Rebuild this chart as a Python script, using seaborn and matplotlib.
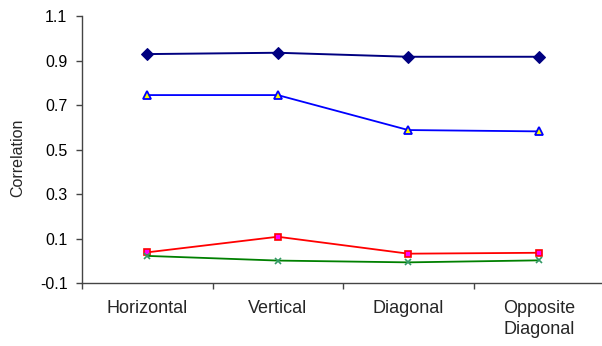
import matplotlib
matplotlib.use("Agg")
import matplotlib.pyplot as plt
import seaborn as sns
import pandas as pd
import numpy as np

categories = ["Horizontal", "Vertical", "Diagonal", "Opposite\nDiagonal"]
series_a = [0.929, 0.935, 0.917, 0.917]
series_b = [0.745, 0.745, 0.588, 0.582]
series_c = [0.039, 0.109, 0.033, 0.037]
series_d = [0.023, 0.002, -0.006, 0.003]
y_ticks = [-0.1, 0.1, 0.3, 0.5, 0.7, 0.9, 1.1]
y_label = "Correlation"

sns.set_style("white")
plt.rcParams['font.family'] = ['Liberation Sans', 'DejaVu Sans']
plt.rcParams['xtick.bottom'] = True
plt.rcParams['ytick.left'] = True

fig = plt.figure(figsize=(6.02, 3.46), dpi=100)
ax = fig.add_axes([82/602, (346-283.3)/346, 522/602, (283.3-16)/346])

x = np.arange(len(categories))
styles = [
    (series_a, dict(color="#000080", marker="D", markersize=6.5, markerfacecolor="#000080",
                    markeredgecolor="#000080", linewidth=1.4)),
    (series_b, dict(color="#0000FF", marker="^", markersize=5.5, markerfacecolor="#FFFF00",
                    markeredgecolor="#0000FF", markeredgewidth=1.3, linewidth=1.3)),
    (series_c, dict(color="#FF0000", marker="s", markersize=4.5, markerfacecolor="#FF00FF",
                    markeredgecolor="#FF0000", markeredgewidth=1.2, linewidth=1.3)),
    (series_d, dict(color="#008000", marker="x", markersize=5, markeredgecolor="#339966",
                    markeredgewidth=1.2, linewidth=1.3)),
]
for vals, kw in styles:
    df = pd.DataFrame({"x": x, "y": vals})
    sns.lineplot(data=df, x="x", y="y", ax=ax, **kw)

ax.set_xlim(-0.5, 3.5)
ax.set_ylim(-0.1, 1.1)
ax.set_yticks(y_ticks)
ax.set_yticklabels([f"{t:g}" for t in y_ticks], fontsize=11.5)
ax.set_xticks([-0.5, 0.5, 1.5, 2.5, 3.5])
ax.set_xticklabels([])
ax.set_xticks(x, minor=True)
ax.set_xticklabels(categories, minor=True, fontsize=13, linespacing=1.3)
ax.tick_params(axis="x", which="minor", bottom=True, length=0, pad=12)
ax.tick_params(axis="x", which="major", bottom=True, length=4.5, width=1, color="#444444", direction="out")
ax.tick_params(axis="y", which="major", left=True, length=4.5, width=1, color="#444444",
               labelcolor="black", direction="out", pad=6)
ax.set_xlabel("")
ax.set_ylabel(y_label, fontsize=11.5)
ax.yaxis.set_label_coords((25 - 82) / 522, 0.47)
for s in ["top", "right"]:
    ax.spines[s].set_visible(False)
for s in ["left", "bottom"]:
    ax.spines[s].set_color("#444444")
    ax.spines[s].set_linewidth(1)
if ax.get_legend():
    ax.get_legend().remove()

fig.savefig("out.png", dpi=100)
